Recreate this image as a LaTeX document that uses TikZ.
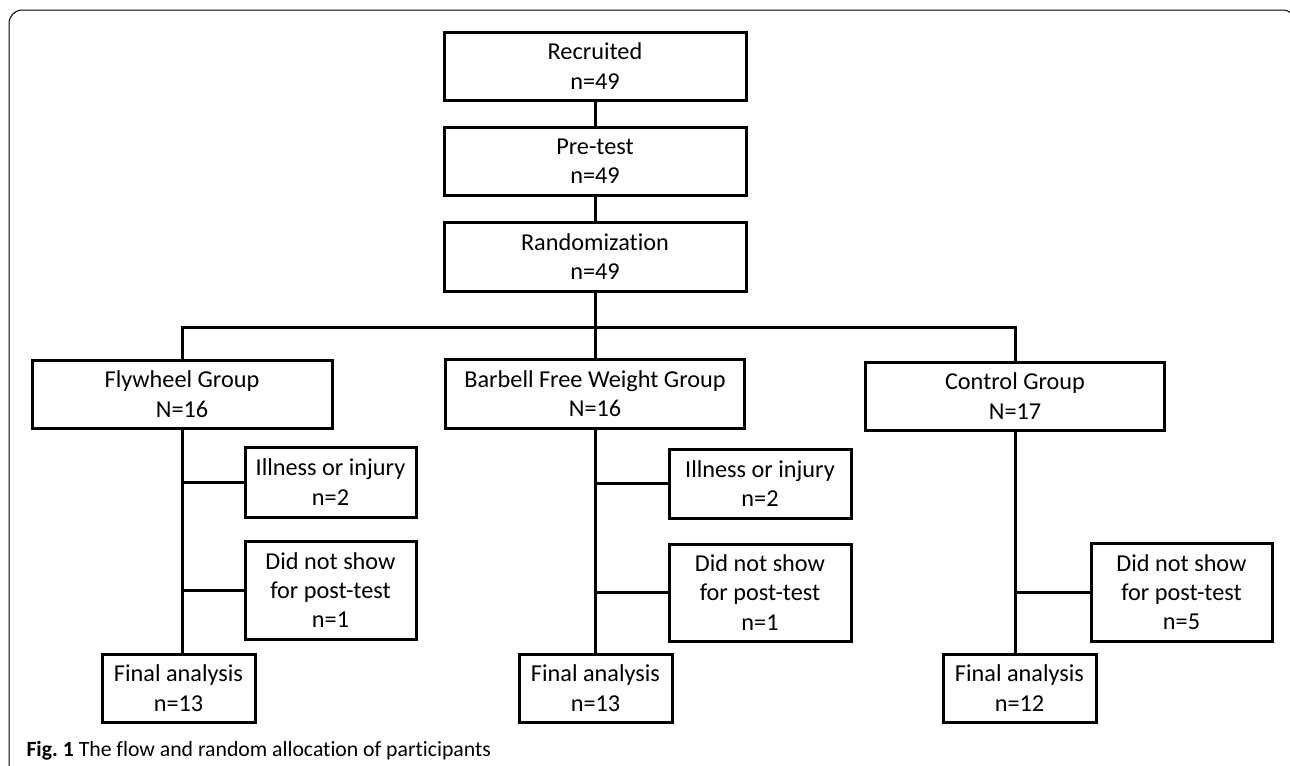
\documentclass[tikz,border=0pt]{standalone}
\usepackage{fontspec}
\setmainfont{Carlito}[Ligatures={TeX,NoCommon}]

\tikzset{every picture/.style={line width=0.75pt}}
\tikzset{
  flowbox/.style={draw, line width=2.25pt, align=center, inner sep=0pt,
    font=\fontsize{18.2}{22}\selectfont},
  flowline/.style={line width=2.25pt},
}

\begin{document}
\begin{tikzpicture}[x=0.75pt,y=0.75pt,yscale=-1,xscale=1]
\path [use as bounding box] (0,0) rectangle (1290,765);

%Shape: Frame
\draw [rounded corners=10] (9,770) -- (9,10) -- (1296,10) -- (1296,770) ;

% Top column
\node [flowbox, minimum width=226.5pt, minimum height=51pt] (recr) at (595,66) {Recruited\\n=49};
\node [flowbox, minimum width=226.5pt, minimum height=51pt] (pre) at (595,161) {Pre-test\\n=49};
\node [flowbox, minimum width=226.5pt, minimum height=51.75pt] (rand) at (595,256.5) {Randomization\\n=49};

% Groups
\node [flowbox, minimum width=225pt, minimum height=51pt] (fly) at (182,394) {Flywheel Group\\N=16};
\node [flowbox, minimum width=224.25pt, minimum height=51.75pt] (bar) at (595,393.5) {Barbell Free Weight Group\\N=16};
\node [flowbox, minimum width=224.25pt, minimum height=51pt] (ctl) at (1015,396) {Control Group\\N=17};

% Flywheel branch
\node [flowbox, minimum width=128.25pt, minimum height=52.5pt] (flyill) at (330.5,482) {Illness or injury\\n=2};
\node [flowbox, minimum width=128.25pt, minimum height=73.5pt] (flydns) at (330.5,590) {Did not show\\for post-test\\n=1};
\node [flowbox, minimum width=114.75pt, minimum height=51pt] (flyfin) at (178.5,688) {Final analysis\\n=13};

% Barbell branch
\node [flowbox, minimum width=136.5pt, minimum height=51.75pt] (barill) at (760,483.5) {Illness or injury\\n=2};
\node [flowbox, minimum width=136.5pt, minimum height=72.75pt] (bardns) at (760,592.5) {Did not show\\for post-test\\n=1};
\node [flowbox, minimum width=114.75pt, minimum height=51pt] (barfin) at (595.5,688) {Final analysis\\n=13};

% Control branch
\node [flowbox, minimum width=135.75pt, minimum height=73.5pt] (ctldns) at (1181.5,592) {Did not show\\for post-test\\n=5};
\node [flowbox, minimum width=114.75pt, minimum height=51pt] (ctlfin) at (1019.5,688) {Final analysis\\n=12};

%Straight Lines
\draw [flowline] (recr) -- (pre) ;
\draw [flowline] (pre) -- (rand) ;
\draw [flowline] (rand) -- (bar) ;
\coordinate (split) at (595,327) ;
\draw [flowline] (fly.north) |- (split) -| (ctl.north) ;

\draw [flowline] (fly.south) -- (fly.south |- flyfin.north) ;
\draw [flowline] (flyill.west) -- (flyill.west -| fly.south) ;
\draw [flowline] (flydns.west) -- (flydns.west -| fly.south) ;

\draw [flowline] (bar.south) -- (bar.south |- barfin.north) ;
\draw [flowline] (barill.west) -- (barill.west -| bar.south) ;
\draw [flowline] (bardns.west) -- (bardns.west -| bar.south) ;

\draw [flowline] (ctl.south) -- (ctl.south |- ctlfin.north) ;
\draw [flowline] (ctldns.west) -- (ctldns.west -| ctl.south) ;

% Caption
\node [anchor=base west, inner sep=0pt, font=\fontsize{16.3}{18}\selectfont] (cap) at (26,756) {\textbf{Fig.~1} The flow and random allocation of participants};

\end{tikzpicture}
\end{document}
